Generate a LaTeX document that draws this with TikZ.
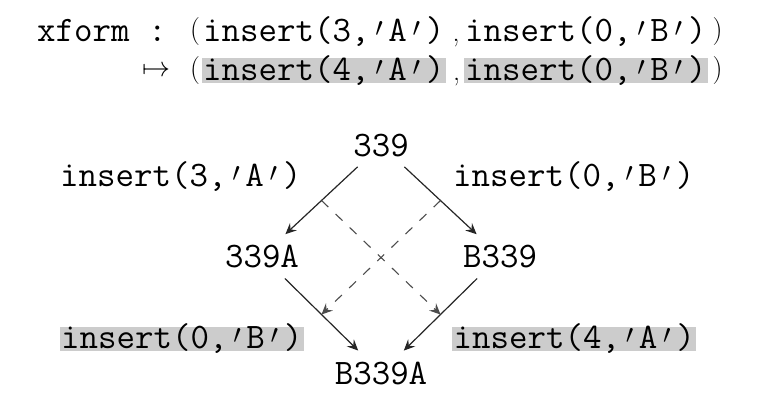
\RequirePackage{fix-cm}
\documentclass[tikz,border=0pt]{standalone}
\usepackage{fontspec}
\usetikzlibrary{arrows.meta}
\newcommand\qt{\makebox[0.525em][c]{\raisebox{5pt}{\fontsize{27}{27}\selectfont$\prime$}}}
\begin{document}
\begin{tikzpicture}[x=1pt,y=-1pt,
  code/.style={font=\ttfamily\fontsize{35.9}{40}\selectfont, inner sep=0pt},
  hl/.style={code, fill=black!20, inner xsep=1.5pt, inner ysep=0pt, text height=21.5pt, text depth=3pt},
  mathsym/.style={font=\fontsize{28}{32}\selectfont, inner sep=0pt},
  tip/.style={-{Stealth[length=11pt,width=10pt,inset=4pt]}},
  arr/.style={draw=black!85, line width=1.2pt, tip, shorten <=32pt, shorten >=32pt},
  dsh/.style={draw=black!70, line width=1.1pt, dash pattern=on 9.5pt off 10pt, tip}
]
\useasboundingbox (0,0) rectangle (762,404);

% formula
\node[code, anchor=base west] (xf) at (37,41.5) {xform :};
\node[mathsym] (lp1) at (195,32) {(};
\node[code, anchor=base west] (a1) at (203,41.5) {insert(3,\qt A\qt)};
\node[mathsym, anchor=base] (c1) at (456,41.5) {,};
\node[code, anchor=base west] (b1) at (465,41.5) {insert(0,\qt B\qt)};
\node[mathsym] (rp1) at (717.5,32) {)};

\node[mathsym] (mt) at (156,71.5) {$\mapsto$};
\node[mathsym] (lp2) at (195,71) {(};
\node[hl, anchor=base west] (a2) at (201.5,80) {insert(4,\qt A\qt)};
\node[mathsym, anchor=base] (c2) at (456.5,80) {,};
\node[hl, anchor=base west] (b2) at (463.5,80) {insert(0,\qt B\qt)};
\node[mathsym] (rp2) at (717.5,71) {)};

% diagram nodes
\node[code, anchor=base] (n339) at (381,156) {339};
\node[code, anchor=base] (n339A) at (262,267) {339A};
\node[code, anchor=base] (nB339) at (500,267) {B339};
\node[code, anchor=base] (nB339A) at (381,384) {B339A};

% labels
\node[code, anchor=base west] (l1) at (60,186) {insert(3,\qt A\qt)};
\node[code, anchor=base west] (l2) at (453,186) {insert(0,\qt B\qt)};
\node[hl, anchor=base west] (l3) at (59.5,348) {insert(0,\qt B\qt)};
\node[hl, anchor=base west] (l4) at (452,348) {insert(4,\qt A\qt)};

% arrows
\draw[arr] (n339.center) -- coordinate[pos=.5] (m1) (n339A.center);
\draw[arr] (n339.center) -- coordinate[pos=.5] (m2) (nB339.center);
\draw[arr] (n339A.center) -- coordinate[pos=.5] (m3) (nB339A.center);
\draw[arr] (nB339.center) -- coordinate[pos=.5] (m4) (nB339A.center);

\draw[dsh] (m1) -- (m4);
\draw[dsh] (m2) -- (m3);
\end{tikzpicture}
\end{document}
